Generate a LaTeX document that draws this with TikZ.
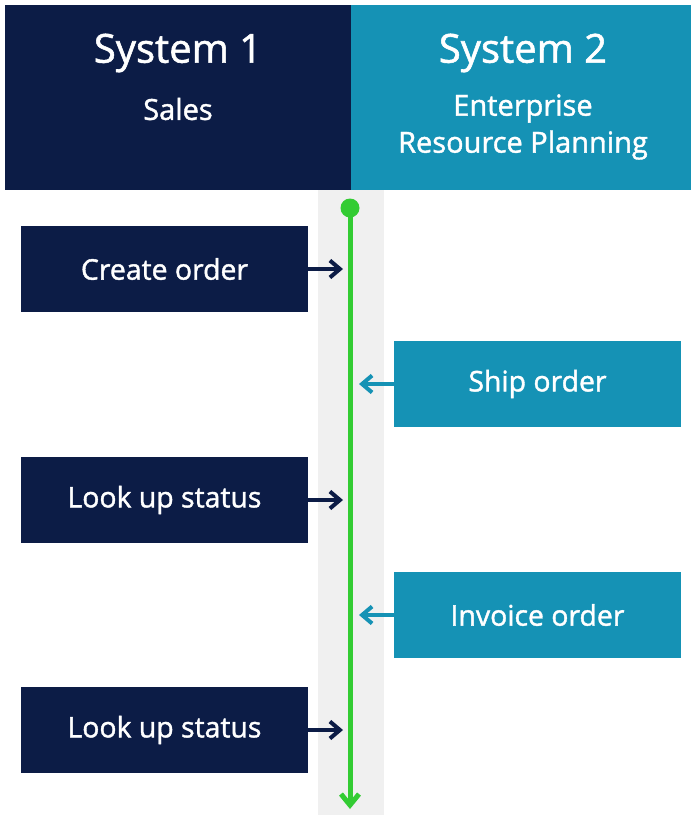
\documentclass[tikz,border=0pt]{standalone}
\usepackage{fontspec}
\setmainfont{Open Sans}
\newfontfamily\sbfont{Open Sans}[FakeBold=1.4]
\usetikzlibrary{arrows.meta}
\definecolor{navy}{HTML}{0C1C46}
\definecolor{tealc}{HTML}{1592B5}
\definecolor{grn}{HTML}{33CC33}
\definecolor{bandc}{HTML}{F0F0F0}
\tikzset{
  hdr/.style={rectangle, inner sep=0, outer sep=0, minimum width=346pt, minimum height=185pt},
  htitle/.style={text=white, font=\sbfont\fontsize{40}{44}\selectfont, inner sep=0},
  hsub/.style={text=white, font=\sbfont\fontsize{29}{37}\selectfont, inner sep=0, align=center},
  stepbox/.style={rectangle, inner sep=0, outer sep=0, minimum width=287pt, minimum height=86pt, text=white, font=\sbfont\fontsize{28.4}{30}\selectfont},
  smalltip/.style={-{Straight Barb[length=10pt,width=17pt,line width=4pt]}},
  navyarrow/.style={draw=navy, line width=3.5pt, smalltip},
  tealarrow/.style={draw=tealc, line width=3.5pt, smalltip},
}
\begin{document}
\begin{tikzpicture}[x=1pt,y=-1pt]
\useasboundingbox (0,0) rectangle (691,815);
\fill[bandc] (318,190) rectangle (384,815);
\node[hdr, fill=navy] (h1) at (178,97.5) {};
\node[hdr, fill=tealc, minimum width=340pt] (h2) at (521,97.5) {};
\node[htitle] (t1) at (178,53) {System 1};
\node[hsub] (s1) at (178,109) {Sales};
\node[htitle] (t2) at (523,53) {System 2};
\node[hsub] (s2) at (523,127) {Enterprise\\Resource Planning};

\node[stepbox, fill=navy] (b1) at (164.5,269) {Create order};
\node[stepbox, fill=tealc] (b2) at (537.5,384) {Ship order};
\node[stepbox, fill=navy] (b3) at (164.5,500) {Look up status};
\node[stepbox, fill=tealc] (b4) at (537.5,615) {Invoice order};
\node[stepbox, fill=navy] (b5) at (164.5,730) {Look up status};

\node[circle, fill=grn, minimum size=19pt, inner sep=0] (start) at (350,208) {};
\coordinate (endp) at (350,809);
\draw[grn, line width=5pt, -{Straight Barb[length=11pt,width=18pt,line width=5pt]}] (start.center) -- (endp);

\coordinate (a1) at (343,269);
\coordinate (a2) at (359,384);
\coordinate (a3) at (343,500);
\coordinate (a4) at (359,615);
\coordinate (a5) at (343,730);
\draw[navyarrow] (b1.east) -- (a1);
\draw[tealarrow] (b2.west) -- (a2);
\draw[navyarrow] (b3.east) -- (a3);
\draw[tealarrow] (b4.west) -- (a4);
\draw[navyarrow] (b5.east) -- (a5);
\end{tikzpicture}
\end{document}
